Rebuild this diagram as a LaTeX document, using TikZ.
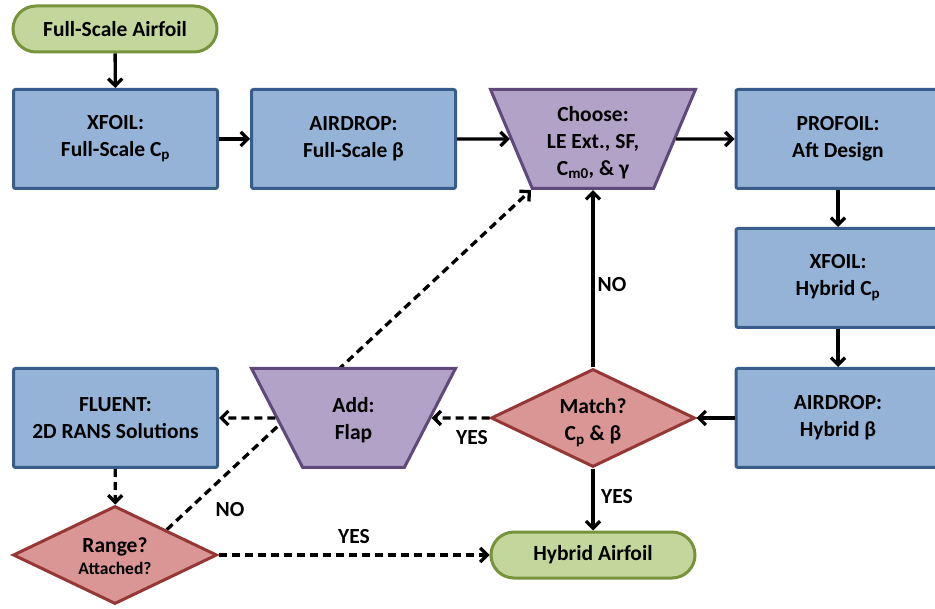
\documentclass[tikz,border=0pt]{standalone}
\usepackage{fontspec}
\setmainfont{Carlito}
\usetikzlibrary{shapes.geometric,arrows.meta,backgrounds}
\definecolor{bfill}{HTML}{95B3D7}
\definecolor{bdraw}{HTML}{385D8A}
\definecolor{pfill}{HTML}{B3A2C7}
\definecolor{pdraw}{HTML}{5F497A}
\definecolor{rfill}{HTML}{D99694}
\definecolor{rdraw}{HTML}{953735}
\definecolor{gfill}{HTML}{C3D69B}
\definecolor{gdraw}{HTML}{77933C}
\newcommand{\lowtxt}[2]{\raisebox{-#1}[\height][\depth]{\begin{tabular}{@{}c@{}}#2\end{tabular}}}
\tikzset{
  basefont/.style={font=\fontsize{21.5}{27}\selectfont\bfseries},
  boxnode/.style={basefont, rectangle, rounded corners=2pt, draw=bdraw, fill=bfill, line width=3pt,
    minimum width=204pt, minimum height=99pt, align=center, inner sep=0pt},
  termnode/.style={basefont, rectangle, rounded corners=23pt, draw=gdraw, fill=gfill, line width=3pt,
    minimum width=204pt, minimum height=46pt, align=center, inner sep=0pt},
  decnode/.style={basefont, diamond, aspect=2.08, draw=rdraw, fill=rfill, line width=3pt,
    minimum width=204pt, minimum height=98pt, align=center, inner sep=0pt},
  trapnode/.style={basefont, trapezium, shape border rotate=180, trapezium left angle=68.6,
    trapezium right angle=68.6, trapezium stretches=true, draw=pdraw, fill=pfill, line width=3pt,
    minimum width=205pt, minimum height=99pt, align=center, inner sep=0pt},
  conn/.style={line width=3.3pt, -{Straight Barb[length=7pt,width=14pt,line width=3.3pt]}},
  dconn/.style={conn, dash pattern=on 8pt off 5pt},
  lab/.style={basefont, inner sep=0pt}
}
\begin{document}
\begin{tikzpicture}[x=1pt,y=-1pt]
\useasboundingbox (0,0) rectangle (935,609);
\node[termnode] (fsa) at (115,29) {Full-Scale Airfoil};
\node[boxnode] (xf1) at (115.5,139) {XFOIL:\\Full-Scale C\textsubscript{p}};
\node[boxnode] (ad1) at (353.5,139) {AIRDROP:\\Full-Scale β};
\node[trapnode] (choose) at (593,139) {\lowtxt{4pt}{Choose:\\LE Ext., SF,\\C\textsubscript{m0}, \& γ}};
\node[boxnode] (pro) at (838,139) {PROFOIL:\\Aft Design};
\node[boxnode] (xf2) at (838,278) {XFOIL:\\Hybrid C\textsubscript{p}};
\node[boxnode] (ad2) at (838,418) {AIRDROP:\\Hybrid β};
\node[decnode] (match) at (593,418) {\lowtxt{4pt}{Match?\\C\textsubscript{p} \& β}};
\node[termnode] (hyb) at (593,555) {Hybrid Airfoil};
\node[trapnode] (add) at (353.5,418) {\lowtxt{3pt}{Add:\\Flap}};
\node[boxnode] (flu) at (115.5,418) {FLUENT:\\2D RANS Solutions};
\node[decnode] (range) at (115,555) {\lowtxt{3pt}{Range?\\[-5pt]{\fontsize{17.5}{20}\selectfont Attached?}}};
\coordinate (cc) at (531,190);

\begin{pgfonlayer}{background}
\draw[dconn] (range.north east) -- (cc);
\end{pgfonlayer}

\draw[conn] (fsa) -- (xf1);
\draw[conn] (xf1) -- (ad1);
\draw[conn] (ad1) -- (choose);
\draw[conn] (choose) -- (pro);
\draw[conn] (pro) -- (xf2);
\draw[conn] (xf2) -- (ad2);
\draw[conn] (ad2) -- (match);
\draw[conn] (match) -- (choose);
\draw[conn] (match) -- (hyb);
\draw[dconn] (match) -- (add);
\draw[dconn] (add) -- (flu);
\draw[dconn] (flu) -- (range);
\draw[dconn] (range) -- (hyb);

\node[lab] (lno1) at (612,285) {NO};
\node[lab] (lyes1) at (472,438) {YES};
\node[lab] (lyes2) at (617,497) {YES};
\node[lab] (lno2) at (230,510) {NO};
\node[lab] (lyes3) at (354,537) {YES};
\end{tikzpicture}
\end{document}
